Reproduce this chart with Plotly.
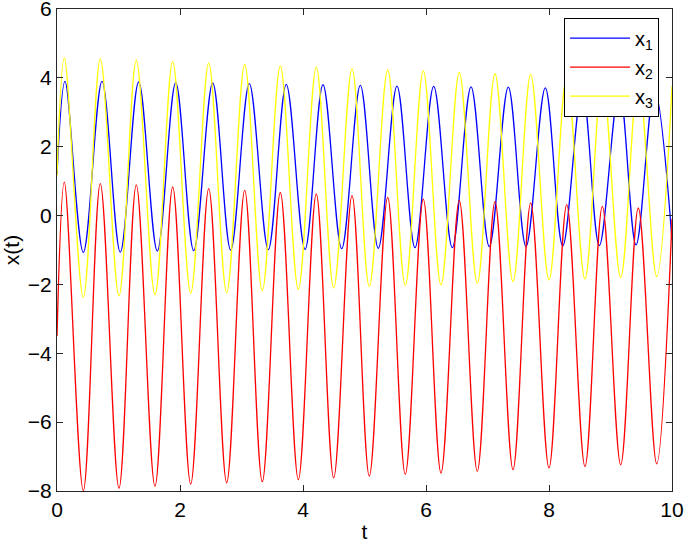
import plotly.graph_objects as go

# ---- data (extremum times / values) ----
# x2 and x3 peak/trough at the same instants
t_peaks_23 = [0.119, 0.704, 1.289, 1.881, 2.467, 3.052, 3.631, 4.216, 4.797,
              5.377, 5.956, 6.541, 7.122, 7.702, 8.288, 8.867, 9.452]
t_troughs_23 = [0.428, 1.008, 1.593, 2.174, 2.759, 3.338, 3.924, 4.499, 5.078,
                5.663, 6.244, 6.834, 7.415, 8.000, 8.585, 9.166, 9.751]
x2_peaks = [0.97, 0.93, 0.89, 0.83, 0.78, 0.73, 0.67, 0.63, 0.58,
            0.53, 0.48, 0.44, 0.41, 0.37, 0.32, 0.27, 0.22]
x2_troughs = [-7.99, -7.92, -7.86, -7.80, -7.76, -7.73, -7.67, -7.62, -7.57,
              -7.52, -7.48, -7.43, -7.38, -7.33, -7.29, -7.24, -7.21]
x3_peaks = [4.58, 4.55, 4.51, 4.47, 4.43, 4.39, 4.35, 4.31, 4.27,
            4.23, 4.20, 4.16, 4.12, 4.10, 4.06, 4.03, 4.00]
x3_troughs = [-2.37, -2.33, -2.30, -2.25, -2.24, -2.18, -2.14, -2.10, -2.06,
              -2.03, -2.01, -1.97, -1.92, -1.87, -1.84, -1.80, -1.77]

t_peaks_1 = [0.130, 0.732, 1.328, 1.930, 2.532, 3.127, 3.728, 4.325, 4.932,
             5.528, 6.125, 6.732, 7.338, 7.940, 8.541, 9.143, 9.715]
t_troughs_1 = [0.428, 1.029, 1.631, 2.223, 2.824, 3.436, 4.033, 4.629,
               5.224, 5.821, 6.428, 7.029, 7.626, 8.223, 8.818, 9.415]
x1_peaks = [3.90, 3.90, 3.88, 3.86, 3.85, 3.83, 3.81, 3.80, 3.78,
            3.76, 3.75, 3.74, 3.73, 3.71, 3.70, 3.68, 3.67]
x1_troughs = [-1.07, -1.06, -1.03, -1.02, -1.00, -0.99, -0.98, -0.96,
              -0.95, -0.93, -0.93, -0.90, -0.90, -0.88, -0.87, -0.85]

t_start, t_end = 0.0, 10.0
x1_ends = (1.20, -0.70)
x2_ends = (-3.50, -0.10)
x3_ends = (1.16, 3.75)

names = ["x<sub>1</sub>", "x<sub>2</sub>", "x<sub>3</sub>"]
colors = ["#0000ff", "#ff0000", "#ffff00"]
x_ticks = [0, 2, 4, 6, 8, 10]
y_ticks = [-8, -6, -4, -2, 0, 2, 4, 6]


def series(tp, vp, tt, vt, ends):
    pts = [(t_start, ends[0])] + list(zip(tp, vp)) + list(zip(tt, vt)) + [(t_end, ends[1])]
    pts.sort(key=lambda p: p[0])
    return [p[0] for p in pts], [p[1] for p in pts]


data = [
    series(t_peaks_1, x1_peaks, t_troughs_1, x1_troughs, x1_ends),
    series(t_peaks_23, x2_peaks, t_troughs_23, x2_troughs, x2_ends),
    series(t_peaks_23, x3_peaks, t_troughs_23, x3_troughs, x3_ends),
]

FONT = "Liberation Sans, Arial, Helvetica, sans-serif"

fig = go.Figure()
for (tx, vy), name, col in zip(data, names, colors):
    fig.add_trace(go.Scatter(x=tx, y=vy, mode="lines", name=name,
                             line=dict(color=col, width=1.3, shape="spline", smoothing=1.0)))

axis_common = dict(showgrid=False, zeroline=False, showline=True, linecolor="#262626",
                   linewidth=1.2, ticks="inside", ticklen=6, tickwidth=1, tickcolor="#262626",
                   mirror="ticks", automargin=False, ticklabeloverflow="allow",
                   tickfont=dict(family=FONT, size=21, color="black"))

fig.update_layout(
    width=685, height=543,
    margin=dict(l=57, r=13, t=9, b=52, autoexpand=False),
    paper_bgcolor="white", plot_bgcolor="white",
    font=dict(family=FONT, size=21, color="black"),
    xaxis=dict(range=[0, 10], tickvals=x_ticks,
               title=dict(text="t", font=dict(family=FONT, size=21), standoff=6), **axis_common),
    yaxis=dict(range=[-8, 6], tickvals=y_ticks,
               title=dict(text="x(t)", font=dict(family=FONT, size=21), standoff=4), **axis_common),
    legend=dict(x=0.979, y=0.982, xanchor="right", yanchor="top",
                bgcolor="white", bordercolor="black", borderwidth=1,
                font=dict(family=FONT, size=20, color="black"), itemwidth=60),
    showlegend=True,
)

fig.write_html("out.html", config={"displayModeBar": False},
               post_script="document.body.style.margin='0';document.body.style.overflow='hidden';")
